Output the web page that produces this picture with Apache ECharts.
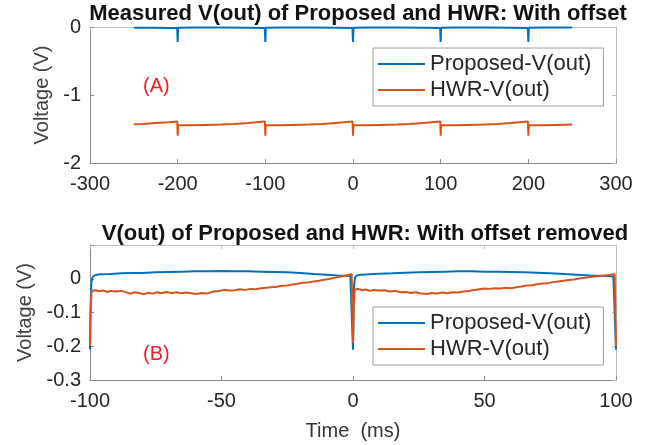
<!DOCTYPE html>
<html>
<head>
<meta charset="utf-8">
<script src="https://cdn.jsdelivr.net/npm/echarts@6/dist/echarts.min.js"></script>
<style>
  html, body { margin: 0; padding: 0; background: #fff; }
  #chart { width: 651px; height: 445px; }
</style>
</head>
<body>
<div id="chart"></div>
<script>
// (A) with offset, time in ms
const topPropT = [-250, -230, -210, -200.6, -200, -199.4, -180, -150, -120, -100.6, -100, -99.4, -80, -50, -20, -0.6, 0, 0.6, 20, 50, 80, 99.4, 100, 100.6, 120, 150, 180, 199.4, 200, 200.6, 220, 250];
const topPropV = [-0.01, -0.01, -0.015, -0.015, -0.22, -0.01, -0.008, -0.006, -0.01, -0.016, -0.22, -0.01, -0.007, -0.006, -0.01, -0.016, -0.22, -0.01, -0.007, -0.006, -0.01, -0.016, -0.22, -0.01, -0.007, -0.006, -0.01, -0.016, -0.22, -0.01, -0.008, -0.008];
const topHwrT = [-250, -240, -225, -210, -200.5, -200, -199.5, -185, -170, -150, -135, -120, -100.5, -100, -99.5, -85, -70, -50, -35, -20, -0.5, 0, 0.5, 15, 30, 50, 65, 80, 99.5, 100, 100.5, 115, 130, 150, 165, 180, 199.5, 200, 200.5, 215, 230, 250];
const topHwrV = [-1.43, -1.425, -1.41, -1.4, -1.39, -1.6, -1.44, -1.445, -1.44, -1.435, -1.425, -1.41, -1.39, -1.6, -1.44, -1.445, -1.44, -1.435, -1.425, -1.41, -1.39, -1.6, -1.44, -1.445, -1.44, -1.435, -1.425, -1.41, -1.39, -1.6, -1.44, -1.445, -1.44, -1.435, -1.425, -1.41, -1.39, -1.6, -1.44, -1.445, -1.44, -1.435];

// (B) offset removed, time in ms
const botPropT = [-100, -99.8, -99.5, -99, -98, -96, -92, -88, -84, -80, -75, -70, -65, -60, -55, -50, -45, -40, -35, -30, -25, -20, -15, -10, -6, -3, -1, -0.4, 0, 0.4, 0.8, 1.5, 3, 6, 10, 15, 20, 25, 30, 35, 40, 45, 50, 55, 60, 65, 70, 75, 80, 85, 90, 94, 97, 99, 99.6, 100];
const botPropV = [-0.21, -0.1, -0.01, 0.005, 0.011, 0.013, 0.014, 0.016, 0.017, 0.017, 0.019, 0.02, 0.021, 0.022, 0.022, 0.023, 0.022, 0.022, 0.021, 0.02, 0.019, 0.017, 0.014, 0.012, 0.01, 0.009, 0.008, 0.006, -0.21, -0.02, 0.004, 0.01, 0.012, 0.013, 0.015, 0.016, 0.018, 0.019, 0.02, 0.021, 0.022, 0.022, 0.021, 0.021, 0.02, 0.019, 0.018, 0.016, 0.014, 0.012, 0.01, 0.009, 0.008, 0.007, 0.004, -0.21];
const botHwrT = [-100, -99.8, -99.4, -98, -96.5, -95, -93.5, -92, -90, -88, -86, -84.5, -83, -81, -79.5, -78, -76, -74.5, -73, -71, -69, -67, -65.5, -63.5, -61.5, -59.5, -57.5, -55.5, -53, -51, -49, -47, -45, -43, -41, -39, -37, -35, -33, -31, -29, -27, -25, -23, -21, -19, -17, -15, -13, -11, -9, -7, -5, -3, -1.5, -0.5, 0,
  0.3, 0.7, 2, 3.5, 5, 6.5, 8, 10, 12, 14, 16, 18, 20, 22, 24, 26, 28, 30, 32, 34, 36, 38, 40, 42, 44, 46, 48, 50, 52, 54, 56, 58, 60, 62, 64, 66, 68, 70, 72, 74, 76, 78, 80, 82, 84, 86, 88, 90, 92, 94, 96, 98, 99.5, 100];
const botHwrV = [-0.2, -0.1, -0.036, -0.034, -0.037, -0.035, -0.039, -0.036, -0.038, -0.036, -0.041, -0.044, -0.04, -0.043, -0.046, -0.042, -0.044, -0.04, -0.043, -0.039, -0.042, -0.04, -0.043, -0.041, -0.043, -0.045, -0.042, -0.044, -0.038, -0.036, -0.033, -0.035, -0.034, -0.031, -0.033, -0.03, -0.031, -0.028, -0.027, -0.025, -0.024, -0.021, -0.02, -0.017, -0.015, -0.012, -0.011, -0.008, -0.006, -0.003, -0.001, 0.003, 0.006, 0.009, 0.012, 0.013, -0.19,
  -0.08, -0.032, -0.03, -0.034, -0.032, -0.036, -0.033, -0.035, -0.034, -0.038, -0.036, -0.04, -0.039, -0.042, -0.04, -0.044, -0.045, -0.042, -0.044, -0.041, -0.043, -0.04, -0.041, -0.038, -0.036, -0.033, -0.031, -0.029, -0.03, -0.028, -0.029, -0.027, -0.028, -0.025, -0.023, -0.02, -0.019, -0.016, -0.014, -0.013, -0.01, -0.008, -0.006, -0.004, -0.002, 0.001, 0.003, 0.005, 0.007, 0.008, 0.01, 0.012, 0.013, -0.2];

const seriesNames = ['Proposed-V(out)', 'HWR-V(out)'];
const colors = ['#0072BD', '#D95319'];

function pairs(t, v) {
  return t.map((x, i) => [x, v[i]]);
}

const font = '"Liberation Sans", Arial, Helvetica, sans-serif';
const axisGrey = '#8a8a8a';
const boxGrey = '#bdbdbd';

function mainX(grid, min, max, interval, name) {
  return {
    type: 'value', gridIndex: grid, min: min, max: max, interval: interval,
    position: 'bottom',
    name: name, nameLocation: 'middle', nameGap: 41,
    nameTextStyle: { color: '#333', fontSize: 20, fontFamily: font },
    axisLine: { show: true, onZero: false, lineStyle: { color: axisGrey, width: 1 } },
    axisTick: { show: true, inside: true, length: 4, lineStyle: { color: axisGrey } },
    axisLabel: { color: '#262626', fontSize: 20, fontFamily: font, margin: 11 },
    splitLine: { show: false }
  };
}
function boxX(grid, min, max, interval) {
  return {
    type: 'value', gridIndex: grid, min: min, max: max, interval: interval,
    position: 'top',
    axisLine: { show: true, onZero: false, lineStyle: { color: boxGrey, width: 1 } },
    axisTick: { show: true, inside: true, length: 4, lineStyle: { color: boxGrey } },
    axisLabel: { show: false },
    splitLine: { show: false }
  };
}
function mainY(grid, min, max, interval, fmt) {
  return {
    type: 'value', gridIndex: grid, min: min, max: max, interval: interval,
    position: 'left',
    name: 'Voltage (V)', nameLocation: 'middle', nameGap: 37,
    nameTextStyle: { color: '#404040', fontSize: 20, fontFamily: font },
    axisLine: { show: true, onZero: false, lineStyle: { color: axisGrey, width: 1 } },
    axisTick: { show: true, inside: true, length: 4, lineStyle: { color: axisGrey } },
    axisLabel: { color: '#262626', fontSize: 20, fontFamily: font, margin: 9, formatter: fmt },
    splitLine: { show: false }
  };
}
function boxY(grid, min, max, interval) {
  return {
    type: 'value', gridIndex: grid, min: min, max: max, interval: interval,
    position: 'right',
    axisLine: { show: true, onZero: false, lineStyle: { color: boxGrey, width: 1 } },
    axisTick: { show: true, inside: true, length: 4, lineStyle: { color: boxGrey } },
    axisLabel: { show: false },
    splitLine: { show: false }
  };
}

function legendAt(top) {
  return {
    data: seriesNames, orient: 'vertical', left: 373, top: top,
    selectedMode: false,
    icon: 'rect', itemWidth: 47, itemHeight: 2, itemGap: 4,
    padding: [5, 12, 5, 5],
    backgroundColor: '#fff', borderColor: '#a0a0a0', borderWidth: 1, borderRadius: 0,
    textStyle: { color: '#262626', fontSize: 22, fontFamily: font, lineHeight: 22 }
  };
}

function line(name, xi, yi, data, color) {
  return {
    name: name, type: 'line', xAxisIndex: xi, yAxisIndex: yi,
    data: data, symbol: 'none', showSymbol: false, animation: false,
    lineStyle: { color: color, width: 2 }, itemStyle: { color: color }
  };
}

const chart = echarts.init(document.getElementById('chart'));
chart.setOption({
  backgroundColor: '#fff',
  animation: false,
  title: [
    { text: 'Measured V(out) of Proposed and HWR: With offset', left: 353, top: -2, textAlign: 'center',
      textStyle: { fontSize: 22, fontWeight: 'bold', color: '#111', fontFamily: font } },
    { text: 'V(out) of Proposed and HWR: With offset removed', left: 360, top: 218, textAlign: 'center',
      textStyle: { fontSize: 22, fontWeight: 'bold', color: '#111', fontFamily: font } }
  ],
  grid: [
    { left: 90, right: 35, top: 27, height: 136 },
    { left: 90, right: 35, top: 245, height: 135 }
  ],
  xAxis: [
    mainX(0, -300, 300, 100, ''),
    boxX(0, -300, 300, 100),
    mainX(1, -100, 100, 50, 'Time  (ms)'),
    boxX(1, -100, 100, 50)
  ],
  yAxis: [
    mainY(0, -2, 0, 1),
    boxY(0, -2, 0, 1),
    mainY(1, -0.3, 0.1, 0.1, v => (v > 0.05 ? '' : String(Math.round(v * 10) / 10))),
    boxY(1, -0.3, 0.1, 0.1)
  ],
  legend: [legendAt(48), legendAt(307)],
  graphic: [
    { type: 'text', left: 143, top: 76, style: { text: '(A)', fill: '#ee1c24', fontSize: 20, fontFamily: font } },
    { type: 'text', left: 143, top: 344, style: { text: '(B)', fill: '#ee1c24', fontSize: 20, fontFamily: font } }
  ],
  series: [
    line(seriesNames[0], 0, 0, pairs(topPropT, topPropV), colors[0]),
    line(seriesNames[1], 0, 0, pairs(topHwrT, topHwrV), colors[1]),
    line(seriesNames[0], 2, 2, pairs(botPropT, botPropV), colors[0]),
    line(seriesNames[1], 2, 2, pairs(botHwrT, botHwrV), colors[1])
  ]
});
</script>
</body>
</html>
